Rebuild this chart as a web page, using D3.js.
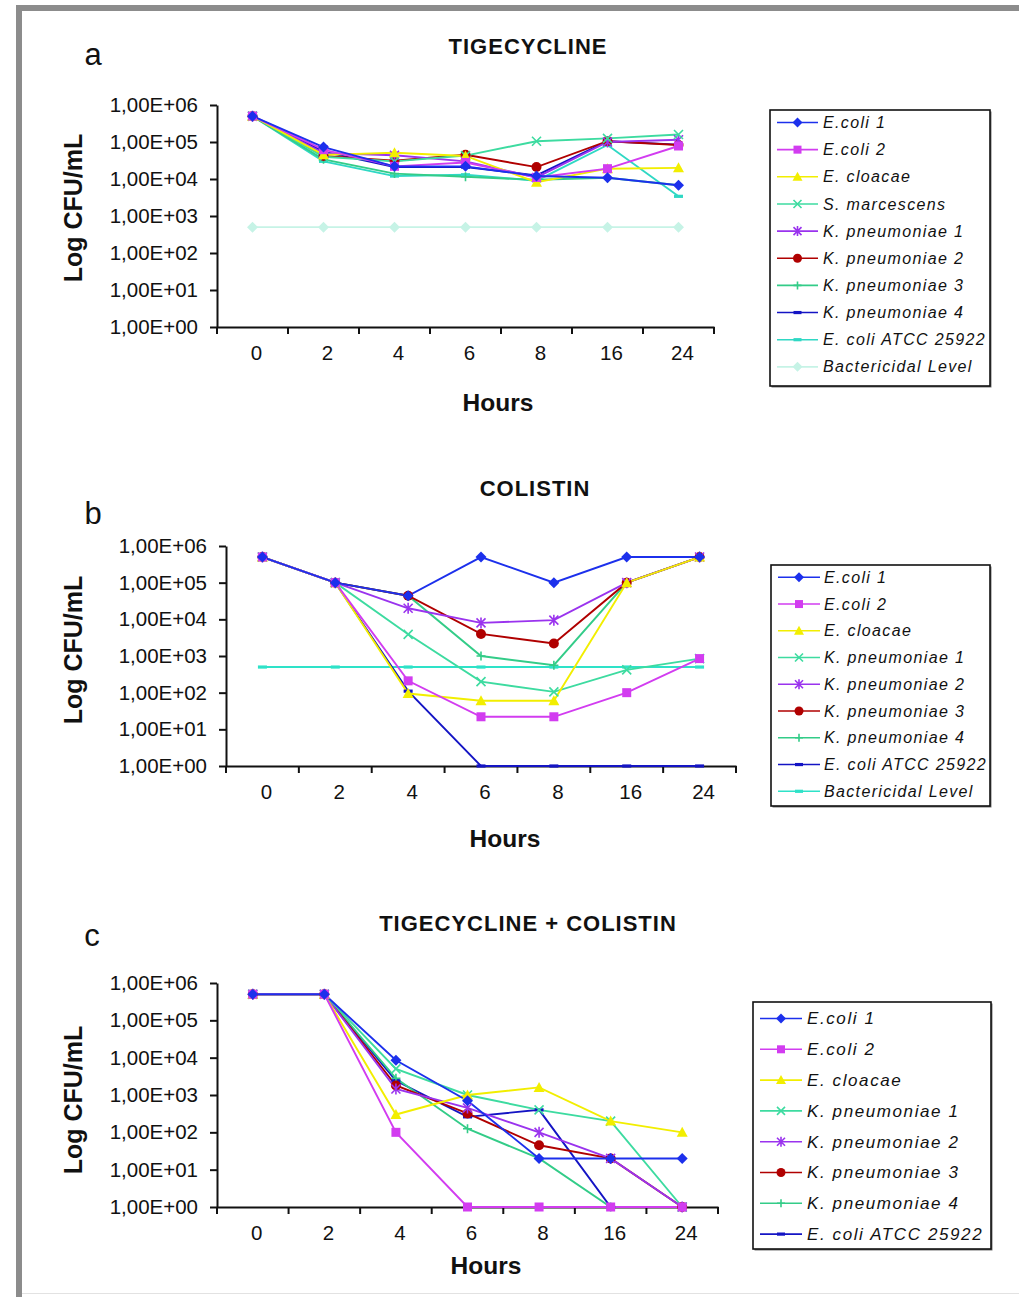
<!DOCTYPE html>
<html><head><meta charset="utf-8">
<script src="https://cdn.jsdelivr.net/npm/d3@7/dist/d3.min.js"></script>
<style>body{margin:0;background:#fff}svg{display:block}</style>
</head><body><svg id="chart" width="1019" height="1297"></svg>
<script>
// ---------- DATA ----------
const hours = ["0", "2", "4", "6", "8", "16", "24"];
const yTickValues = [1, 10, 100, 1000, 10000, 100000, 1000000];
const yTickLabels = ["1,00E+00", "1,00E+01", "1,00E+02", "1,00E+03", "1,00E+04", "1,00E+05", "1,00E+06"];

// Panel a: TIGECYCLINE
const tigNames = ["E.coli 1", "E.coli 2", "E. cloacae", "S. marcescens", "K. pneumoniae 1", "K. pneumoniae 2", "K. pneumoniae 3", "K. pneumoniae 4", "E. coli ATCC 25922", "Bactericidal Level"];
const tigMarkers = ["diamond", "square", "triangle", "x", "asterisk", "circle", "plus", "dash", "dash", "diamond"];
const tigColors = ["#1c30ec", "#d23cf0", "#f2ee00", "#3ddba0", "#9a33ee", "#b00000", "#33cc88", "#1414c4", "#2fd8c4", "#c6f3e6"];
const tigEcoli1 = [5e5, 7.3e4, 2.2e4, 2.2e4, 1.2e4, 1.08e4, 6.8e3];
const tigEcoli2 = [5e5, 6.2e4, 2.2e4, 2.8e4, 1.1e4, 1.9e4, 7.8e4];
const tigCloacae = [5e5, 4.5e4, 5.1e4, 4.2e4, 8.2e3, 1.9e4, 2e4];
const tigSmarc = [5e5, 4e4, 3e4, 4.3e4, 1.05e5, 1.25e5, 1.6e5];
const tigKp1 = [5e5, 5e4, 4.4e4, 3e4, 1.1e4, 1e5, 1.15e5];
const tigKp2 = [5e5, 4.2e4, 3.1e4, 4.5e4, 2.1e4, 1.05e5, 8.3e4];
const tigKp3 = [5e5, 3.4e4, 1.4e4, 1.15e4, 9.5e3, 1.08e4, 6.8e3];
const tigKp4 = [5e5, 5.5e4, 2.1e4, 2.1e4, 1.25e4, 1.05e5, 8.5e4];
const tigAtcc = [5e5, 3e4, 1.2e4, 1.3e4, 9e3, 8.3e4, 3.4e3];
const tigBactericidal = [500, 500, 500, 500, 500, 500, 500];

// Panel b: COLISTIN
const colNames = ["E.coli 1", "E.coli 2", "E. cloacae", "K. pneumoniae 1", "K. pneumoniae 2", "K. pneumoniae 3", "K. pneumoniae 4", "E. coli ATCC 25922", "Bactericidal Level"];
const colMarkers = ["diamond", "square", "triangle", "x", "asterisk", "circle", "plus", "dash", "dash"];
const colColors = ["#1c30ec", "#d23cf0", "#f2ee00", "#3ddba0", "#9a33ee", "#b00000", "#33cc88", "#1414c4", "#2ee2c8"];
const colEcoli1 = [5e5, 1e5, 4.4e4, 5e5, 1e5, 5e5, 5e5];
const colEcoli2 = [5e5, 1e5, 2.1e2, 2.2e1, 2.2e1, 1e2, 8.5e2];
const colCloacae = [5e5, 1e5, 9.5e1, 6e1, 6e1, 1e5, 5e5];
const colKp1 = [5e5, 1e5, 3.9e3, 2e2, 1.05e2, 4.2e2, 8.5e2];
const colKp2 = [5e5, 1e5, 2e4, 8e3, 9.5e3, 1e5, 5e5];
const colKp3 = [5e5, 1e5, 4.4e4, 4e3, 2.2e3, 1e5, 5e5];
const colKp4 = [5e5, 1e5, 4.4e4, 1e3, 5.6e2, 1e5, 5e5];
const colAtcc = [5e5, 1e5, 1.1e2, 1, 1, 1, 1];
const colBactericidal = [500, 500, 500, 500, 500, 500, 500];

// Panel c: TIGECYCLINE + COLISTIN
const combNames = ["E.coli 1", "E.coli 2", "E. cloacae", "K. pneumoniae 1", "K. pneumoniae 2", "K. pneumoniae 3", "K. pneumoniae 4", "E. coli ATCC 25922"];
const combMarkers = ["diamond", "square", "triangle", "x", "asterisk", "circle", "plus", "dash"];
const combColors = ["#1c30ec", "#d23cf0", "#f2ee00", "#3ddba0", "#9a33ee", "#b00000", "#33cc88", "#1414c4"];
const combEcoli1 = [5e5, 5e5, 8.5e3, 7e2, 2e1, 2e1, 2e1];
const combEcoli2 = [5e5, 5e5, 1e2, 1, 1, 1, 1];
const combCloacae = [5e5, 5e5, 3e2, 1e3, 1.6e3, 2e2, 1e2];
const combKp1 = [5e5, 5e5, 5e3, 1e3, 4e2, 2e2, 1];
const combKp2 = [5e5, 5e5, 1.45e3, 4.5e2, 1e2, 2e1, 1];
const combKp3 = [5e5, 5e5, 1.8e3, 3.2e2, 4.5e1, 2e1, 1];
const combKp4 = [5e5, 5e5, 2.8e3, 1.25e2, 2e1, 1, 1];
const combAtcc = [5e5, 5e5, 2.4e3, 2.6e2, 4e2, 1, 1];

const panelA = { title: "TIGECYCLINE", letter: "a", names: tigNames, markers: tigMarkers, colors: tigColors,
  values: [tigEcoli1, tigEcoli2, tigCloacae, tigSmarc, tigKp1, tigKp2, tigKp3, tigKp4, tigAtcc, tigBactericidal] };
const panelB = { title: "COLISTIN", letter: "b", names: colNames, markers: colMarkers, colors: colColors,
  values: [colEcoli1, colEcoli2, colCloacae, colKp1, colKp2, colKp3, colKp4, colAtcc, colBactericidal] };
const panelC = { title: "TIGECYCLINE + COLISTIN", letter: "c", names: combNames, markers: combMarkers, colors: combColors,
  values: [combEcoli1, combEcoli2, combCloacae, combKp1, combKp2, combKp3, combKp4, combAtcc] };

// ---------- LAYOUT ----------
const layouts = [
  { p: panelA, left: 217, right: 714, top: 105, bottom: 327, titleX: 528, titleY: 54, letterX: 93, letterY: 65,
    yTitleX: 82, yTitleY: 208, hoursX: 498, hoursY: 411,
    leg: { x: 770, y: 110, w: 220, h: 276, row0: 122.5, step: 27.15, l0: 777, l1: 818, tx: 823, fs: 16, ls: 1.35 } },
  { p: panelB, left: 226, right: 736, top: 546, bottom: 766, titleX: 535, titleY: 496, letterX: 93, letterY: 524,
    yTitleX: 82, yTitleY: 650, hoursX: 505, hoursY: 847,
    leg: { x: 771, y: 565, w: 219, h: 241, row0: 577.3, step: 26.75, l0: 778, l1: 820, tx: 824, fs: 16, ls: 1.35 } },
  { p: panelC, left: 217, right: 718, top: 983, bottom: 1207, titleX: 528, titleY: 931, letterX: 92, letterY: 946,
    yTitleX: 82, yTitleY: 1100, hoursX: 486, hoursY: 1274,
    leg: { x: 753, y: 1002, w: 238, h: 247, row0: 1018.5, step: 30.8, l0: 760, l1: 802, tx: 807, fs: 17, ls: 1.6 } }
];

const FONT = "'Liberation Sans', Arial, Helvetica, sans-serif";
const svg = d3.select("#chart");

// frame
svg.append("line").attr("x1", 19).attr("y1", 5).attr("x2", 19).attr("y2", 1297).attr("stroke", "#8c8c8c").attr("stroke-width", 6);
svg.append("line").attr("x1", 16).attr("y1", 8).attr("x2", 1019).attr("y2", 8).attr("stroke", "#8c8c8c").attr("stroke-width", 6);
svg.append("line").attr("x1", 22).attr("y1", 1293.5).attr("x2", 1019).attr("y2", 1293.5).attr("stroke", "#e2e2e2").attr("stroke-width", 1);

function drawMarker(g, type, cx, cy, color, s) {
  const m = g.append("g").attr("transform", `translate(${cx},${cy})`);
  const r = s / 2;
  switch (type) {
    case "diamond":
      m.append("path").attr("d", `M0,${-r - 1}L${r + 1},0L0,${r + 1}L${-r - 1},0Z`).attr("fill", color); break;
    case "square":
      m.append("rect").attr("x", -r).attr("y", -r).attr("width", s).attr("height", s).attr("fill", color); break;
    case "triangle":
      m.append("path").attr("d", `M0,${-r - 1}L${r + 1},${r}L${-r - 1},${r}Z`).attr("fill", color); break;
    case "circle":
      m.append("circle").attr("r", r + 0.5).attr("fill", color); break;
    case "x":
      m.append("path").attr("d", `M${-r},${-r}L${r},${r}M${-r},${r}L${r},${-r}`).attr("stroke", color).attr("stroke-width", 1.6).attr("fill", "none"); break;
    case "asterisk":
      m.append("path").attr("d", `M${-r},${-r}L${r},${r}M${-r},${r}L${r},${-r}M0,${-r - 1}L0,${r + 1}`).attr("stroke", color).attr("stroke-width", 1.6).attr("fill", "none"); break;
    case "plus":
      m.append("path").attr("d", `M${-r},0L${r},0M0,${-r}L0,${r}`).attr("stroke", color).attr("stroke-width", 1.6).attr("fill", "none"); break;
    case "dash":
      m.append("rect").attr("x", -r).attr("y", -1.6).attr("width", s).attr("height", 3.2).attr("fill", color); break;
  }
}

layouts.forEach(L => {
  const p = L.p;
  const g = svg.append("g");
  const x = d3.scaleBand().domain(hours).range([L.left, L.right]);
  const y = d3.scaleLog().domain([1, 1e6]).range([L.bottom, L.top]);

  // Title + panel letter
  g.append("text").attr("x", L.titleX).attr("y", L.titleY).attr("text-anchor", "middle")
    .attr("font-family", FONT).attr("font-weight", "bold").attr("font-size", 22).attr("letter-spacing", 1)
    .attr("fill", "#111").text(p.title);
  g.append("text").attr("x", L.letterX).attr("y", L.letterY).attr("text-anchor", "middle")
    .attr("font-family", FONT).attr("font-size", 31).attr("fill", "#111").text(p.letter);

  // Y axis
  const yAxis = d3.axisLeft(y).tickValues(yTickValues)
    .tickFormat((d, i) => yTickLabels[i]).tickSizeInner(7).tickSizeOuter(0).tickPadding(12);
  const ya = g.append("g").attr("transform", `translate(${L.left},0)`).call(yAxis);
  ya.selectAll("path,line").attr("stroke", "#111").attr("stroke-width", 2);
  ya.selectAll("text").attr("font-family", FONT).attr("font-size", 20.5).attr("fill", "#111");

  // X axis (labels at band centres, ticks at band edges)
  const xAxis = d3.axisBottom(x).tickSize(0).tickPadding(18);
  const xa = g.append("g").attr("transform", `translate(0,${L.bottom})`).call(xAxis);
  xa.select(".domain").attr("stroke", "#111").attr("stroke-width", 2);
  xa.selectAll("text").attr("font-family", FONT).attr("font-size", 20.5).attr("fill", "#111")
    .attr("transform", "translate(4,0)");
  const edges = hours.map(h => x(h)).concat([x(hours[hours.length - 1]) + x.bandwidth()]);
  xa.selectAll(".edge").data(edges).enter().append("line")
    .attr("x1", d => d).attr("x2", d => d).attr("y1", 0).attr("y2", 7)
    .attr("stroke", "#111").attr("stroke-width", 2);

  // Axis titles
  g.append("text").attr("transform", `translate(${L.yTitleX},${L.yTitleY}) rotate(-90)`)
    .attr("text-anchor", "middle").attr("font-family", FONT).attr("font-weight", "bold")
    .attr("font-size", 25).attr("fill", "#111").text("Log CFU/mL");
  g.append("text").attr("x", L.hoursX).attr("y", L.hoursY).attr("text-anchor", "middle")
    .attr("font-family", FONT).attr("font-weight", "bold").attr("font-size", 24.5).attr("fill", "#111").text("Hours");

  // Series
  const line = d3.line().x((d, i) => x(hours[i]) + x.bandwidth() / 2).y(d => y(d));
  const order = p.values.map((v, i) => i).reverse();
  order.forEach(i => {
    g.append("path").attr("d", line(p.values[i])).attr("fill", "none")
      .attr("stroke", p.colors[i]).attr("stroke-width", 1.9);
  });
  order.forEach(i => {
    p.values[i].forEach((v, j) => {
      drawMarker(g, p.markers[i], x(hours[j]) + x.bandwidth() / 2, y(v), p.colors[i], 9);
    });
  });

  // Legend
  const lg = L.leg;
  g.append("rect").attr("x", lg.x + 1.5).attr("y", lg.y + 1.5).attr("width", lg.w).attr("height", lg.h)
    .attr("fill", "#777");
  g.append("rect").attr("x", lg.x).attr("y", lg.y).attr("width", lg.w).attr("height", lg.h)
    .attr("fill", "#fff").attr("stroke", "#111").attr("stroke-width", 1.6);
  p.names.forEach((n, i) => {
    const ry = lg.row0 + i * lg.step;
    g.append("line").attr("x1", lg.l0).attr("x2", lg.l1).attr("y1", ry).attr("y2", ry)
      .attr("stroke", p.colors[i]).attr("stroke-width", 1.6);
    drawMarker(g, p.markers[i], (lg.l0 + lg.l1) / 2, ry, p.colors[i], 8);
    g.append("text").attr("x", lg.tx).attr("y", ry).attr("dy", "0.35em")
      .attr("font-family", FONT).attr("font-style", "italic").attr("font-size", lg.fs)
      .attr("letter-spacing", lg.ls).attr("fill", "#111").text(n);
  });
});
</script>
</body></html>
